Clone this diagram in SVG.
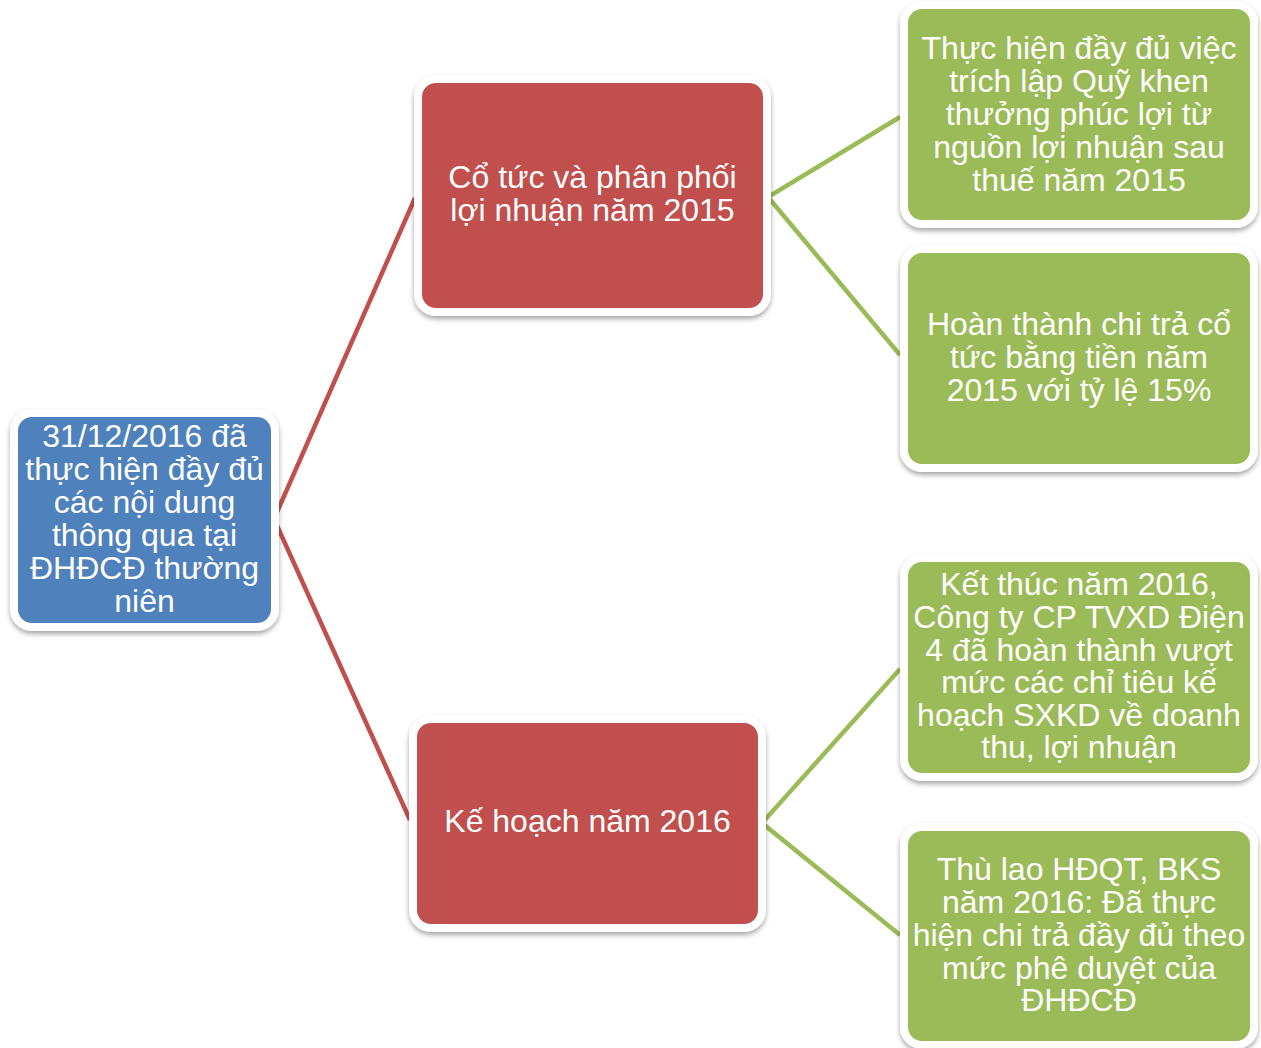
<svg xmlns="http://www.w3.org/2000/svg" width="1261" height="1048" viewBox="0 0 1261 1048">
<style>
.frame{stroke:#FFFFFF;stroke-width:8;filter:url(#sh)}
.blue{fill:#4F81BD}
.red{fill:#C0504D}
.green{fill:#9BBB59}
.t{font-family:"Liberation Sans",Arial,sans-serif;font-size:32px;fill:#FFFFFF;text-anchor:middle}
.lr{stroke:#C0504D;stroke-width:4.5;fill:none}
.lg{stroke:#9BBB59;stroke-width:4.5;fill:none}
</style>
<defs>
<filter id="sh" x="-10%" y="-10%" width="120%" height="125%">
<feDropShadow dx="0" dy="3" stdDeviation="2.5" flood-color="#000000" flood-opacity="0.35"/>
</filter>
</defs>
<rect width="1261" height="1048" fill="#FFFFFF"/>
<g id="connectors">
<polyline class="lr" points="415,198 274,519 410,820"/>
<polyline class="lg" points="900,117 768,197 900,355"/>
<polyline class="lg" points="900,669 762,823 900,935"/>
</g>
<g id="root">
<rect class="frame blue" x="14" y="413" width="261" height="214" rx="18"/>
<text class="t"><tspan x="144.5" y="447">31/12/2016 đã</tspan><tspan x="144.5" y="480">thực hiện đầy đủ</tspan><tspan x="144.5" y="513">các nội dung</tspan><tspan x="144.5" y="546">thông qua tại</tspan><tspan x="144.5" y="579">ĐHĐCĐ thường</tspan><tspan x="144.5" y="612">niên</tspan></text>
</g>
<g id="red1">
<rect class="frame red" x="418" y="79" width="349" height="233" rx="18"/>
<text class="t"><tspan x="592.5" y="188">Cổ tức và phân phối</tspan><tspan x="592.5" y="221">lợi nhuận năm 2015</tspan></text>
</g>
<g id="red2">
<rect class="frame red" x="413" y="719" width="349" height="209" rx="18"/>
<text class="t"><tspan x="587.5" y="832">Kế hoạch năm 2016</tspan></text>
</g>
<g id="green1">
<rect class="frame green" x="904" y="5" width="350" height="219" rx="18"/>
<text class="t"><tspan x="1079" y="59">Thực hiện đầy đủ việc</tspan><tspan x="1079" y="92">trích lập Quỹ khen</tspan><tspan x="1079" y="125">thưởng phúc lợi từ</tspan><tspan x="1079" y="158">nguồn lợi nhuận sau</tspan><tspan x="1079" y="191">thuế năm 2015</tspan></text>
</g>
<g id="green2">
<rect class="frame green" x="904" y="249" width="350" height="219" rx="18"/>
<text class="t"><tspan x="1079" y="335">Hoàn thành chi trả cổ</tspan><tspan x="1079" y="368">tức bằng tiền năm</tspan><tspan x="1079" y="401">2015 với tỷ lệ 15%</tspan></text>
</g>
<g id="green3">
<rect class="frame green" x="904" y="558" width="350" height="219" rx="18"/>
<text class="t"><tspan x="1079" y="595">Kết thúc năm 2016,</tspan><tspan x="1079" y="628">Công ty CP TVXD Điện</tspan><tspan x="1079" y="661">4 đã hoàn thành vượt</tspan><tspan x="1079" y="693">mức các chỉ tiêu kế</tspan><tspan x="1079" y="726">hoạch SXKD về doanh</tspan><tspan x="1079" y="758">thu, lợi nhuận</tspan></text>
</g>
<g id="green4">
<rect class="frame green" x="904" y="827" width="350" height="218" rx="18"/>
<text class="t"><tspan x="1079" y="880">Thù lao HĐQT, BKS</tspan><tspan x="1079" y="913">năm 2016: Đã thực</tspan><tspan x="1079" y="946">hiện chi trả đầy đủ theo</tspan><tspan x="1079" y="979">mức phê duyệt của</tspan><tspan x="1079" y="1011">ĐHĐCĐ</tspan></text>
</g>
</svg>
